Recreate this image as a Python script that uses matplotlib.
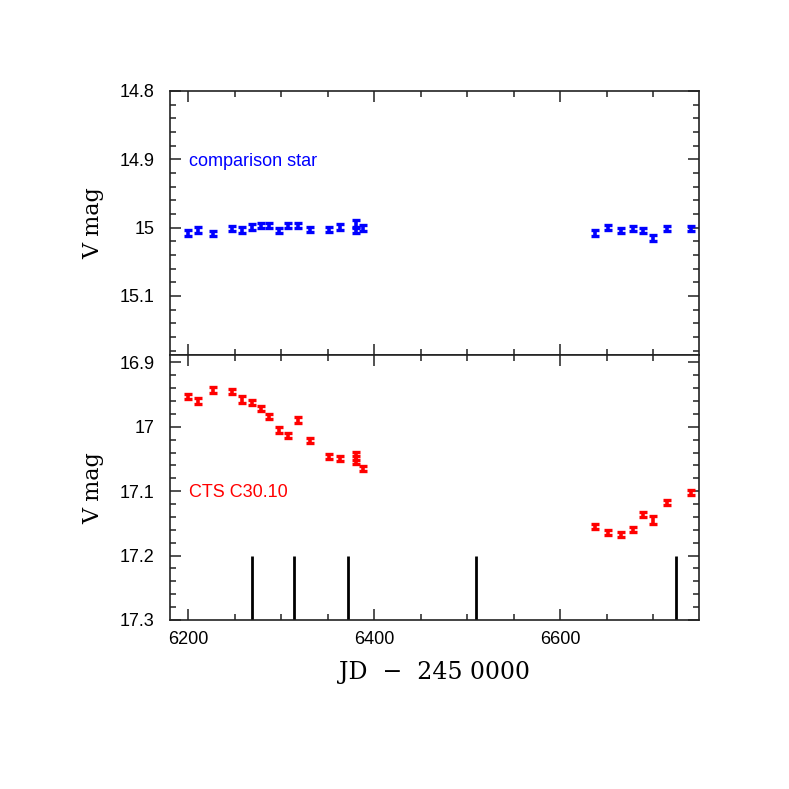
import numpy as np
import matplotlib
matplotlib.use('Agg')
import matplotlib.pyplot as plt
from matplotlib.ticker import MultipleLocator, FormatStrFormatter

plt.rcParams.update({
    'font.family': 'Liberation Sans',
    'font.size': 13,
})

# comparison star
jd_cmp = [6200, 6210.8, 6226.9, 6246.6, 6258, 6268.8, 6278.2, 6286.8, 6297.8,
          6307.5, 6317.6, 6330.9, 6351.6, 6363.5, 6380, 6380, 6387.5,
          6637.3, 6651.3, 6665.3, 6677.8, 6689.2, 6700, 6715, 6740.2]
mag_cmp = [15.008, 15.0035, 15.009, 15.001, 15.0035, 14.999, 14.9966, 14.997, 15.0045,
           14.9966, 14.9966, 15.0025, 15.0025, 14.999, 14.995, 15.0035, 15.0006,
           15.008, 14.9996, 15.0045, 15.0016, 15.0045, 15.015, 15.0016, 15.001]
err_cmp = [0.004, 0.004, 0.004, 0.004, 0.004, 0.004, 0.004, 0.004, 0.004,
           0.004, 0.004, 0.004, 0.004, 0.004, 0.006, 0.004, 0.004,
           0.004, 0.004, 0.004, 0.004, 0.004, 0.004, 0.004, 0.004]

# CTS C30.10
jd_var = jd_cmp
mag_var = [16.9534, 16.960, 16.943, 16.945, 16.9575, 16.962, 16.972, 16.9834, 17.005,
           17.014, 16.9896, 17.0217, 17.0466, 17.0497, 17.0455, 17.0517, 17.0646,
           17.1542, 17.1635, 17.1671, 17.1593, 17.136, 17.1449, 17.1174, 17.1025]
err_var = [0.004, 0.004, 0.004, 0.004, 0.006, 0.004, 0.004, 0.004, 0.004,
           0.004, 0.005, 0.004, 0.004, 0.004, 0.006, 0.006, 0.004,
           0.004, 0.004, 0.004, 0.004, 0.004, 0.0065, 0.004, 0.004]

# epoch markers
jd_marks = [6268, 6314, 6372, 6509, 6724]

fig = plt.figure(figsize=(7.89, 7.89), dpi=100)
ax1 = fig.add_axes([0.2155, 0.5497, 0.6705, 0.3350])
ax2 = fig.add_axes([0.2155, 0.2142, 0.6705, 0.3355])

ax1.errorbar(jd_cmp, mag_cmp, yerr=err_cmp, fmt='none', ecolor='#0000ff',
             elinewidth=2.6, capsize=3.2, capthick=2.4)
ax2.errorbar(jd_var, mag_var, yerr=err_var, fmt='none', ecolor='#ff0000',
             elinewidth=2.6, capsize=3.2, capthick=2.4)
ax2.vlines(jd_marks, 17.2, 17.3, colors='black', linewidth=2)

ax1.set_ylim(15.187, 14.8)
ax2.set_ylim(17.3, 16.889)

for ax in (ax1, ax2):
    ax.set_xlim(6180.3, 6749)
    ax.xaxis.set_major_locator(MultipleLocator(200))
    ax.xaxis.set_minor_locator(MultipleLocator(50))
    ax.yaxis.set_major_locator(MultipleLocator(0.1))
    ax.yaxis.set_minor_locator(MultipleLocator(0.02))
    ax.yaxis.set_major_formatter(FormatStrFormatter('%g'))
    ax.tick_params(which='both', direction='in', top=True, right=True, color='#222222')
    ax.tick_params(which='major', length=8, width=1.1, labelsize=13)
    ax.tick_params(which='minor', length=4.3, width=1.1)
    ax.tick_params(axis='y', pad=11)
    ax.tick_params(axis='x', pad=8)
    for s in ax.spines.values():
        s.set_linewidth(1.2)
        s.set_color('#222222')
    ax.set_ylabel('V mag', family='DejaVu Serif', fontsize=16)
    ax.yaxis.set_label_coords(-0.125, 0.5)

ax1.tick_params(axis='x', labelbottom=False)

ax1.text(0.036, 0.735, 'comparison star', color='#0000ff', fontsize=13,
         va='center', transform=ax1.transAxes)
ax2.text(0.036, 0.48, 'CTS C30.10', color='#ff0000', fontsize=13,
         va='center', transform=ax2.transAxes)

ax2.set_xlabel('JD  \u2212  245 0000', family='DejaVu Serif', fontsize=17)
ax2.xaxis.set_label_coords(0.5, -0.155)

fig.savefig('out.png', dpi=100)
